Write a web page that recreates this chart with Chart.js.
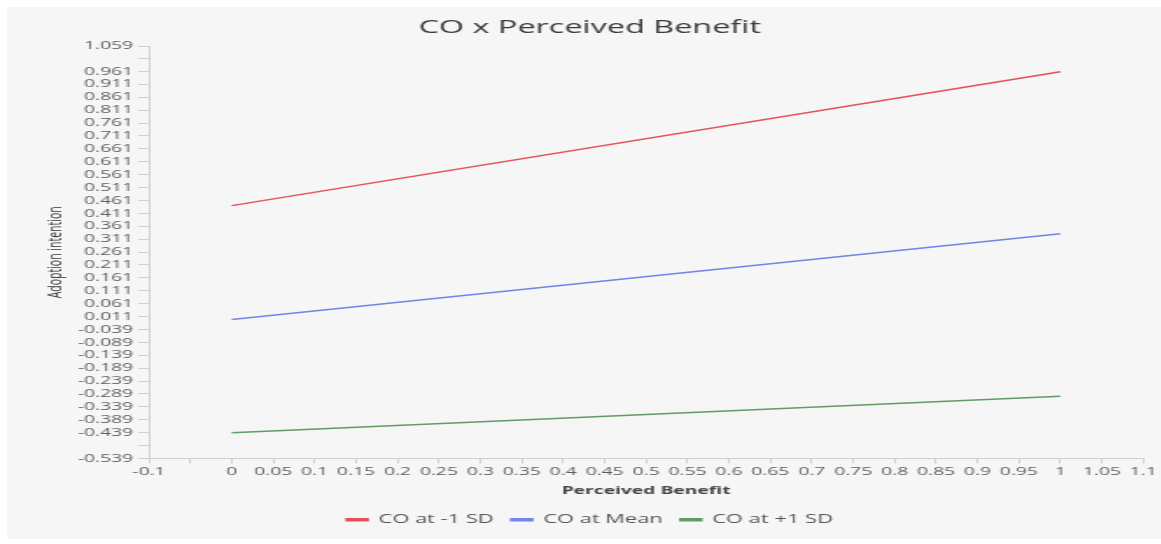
<!DOCTYPE html>
<html>
<head>
<meta charset="utf-8">
<script src="https://cdn.jsdelivr.net/npm/chart.js@4/dist/chart.umd.min.js"></script>
<style>
    html, body { margin: 0; padding: 0; background: #fff; width: 1161px; height: 544px; overflow: hidden; }
    #panel { position: absolute; left: 7px; top: 7px; right: 0; bottom: 5px; background: #f6f6f6; }
    /* the original export is stretched sideways, so draw narrow and scale it */
    #wrap { position: absolute; left: 0; top: 0; width: 663px; height: 544px; transform: scaleX(1.75); transform-origin: 0 0; }
</style>
</head>
<body>
<div id="panel"></div>
<div id="wrap"><canvas id="plot"></canvas></div>
<script>
const xValues = [0, 1];
const lowSD = [0.441, 0.960];
const meanSD = [0.000, 0.332];
const highSD = [-0.439, -0.298];
const seriesNames = ["CO at -1 SD", "CO at Mean", "CO at +1 SD"];

const xTicks = [-0.1, -0.05, 0, 0.05, 0.1, 0.15, 0.2, 0.25, 0.3, 0.35, 0.4, 0.45, 0.5,
    0.55, 0.6, 0.65, 0.7, 0.75, 0.8, 0.85, 0.9, 0.95, 1, 1.05, 1.1];
const xTickLabels = ["-0.1", "", "0", "0.05", "0.1", "0.15", "0.2", "0.25", "0.3", "0.35", "0.4", "0.45", "0.5",
    "0.55", "0.6", "0.65", "0.7", "0.75", "0.8", "0.85", "0.9", "0.95", "1", "1.05", "1.1"];

const yTicks = [-0.539, -0.489, -0.439, -0.389, -0.339, -0.289, -0.239, -0.189, -0.139, -0.089, -0.039,
    0.011, 0.061, 0.111, 0.161, 0.211, 0.261, 0.311, 0.361, 0.411, 0.461, 0.511, 0.561, 0.611, 0.661,
    0.711, 0.761, 0.811, 0.861, 0.911, 0.961, 1.011, 1.059];
const yTickLabels = ["-0.539", "", "-0.439", "-0.389", "-0.339", "-0.289", "-0.239", "-0.189", "-0.139", "-0.089", "-0.039",
    "0.011", "0.061", "0.111", "0.161", "0.211", "0.261", "0.311", "0.361", "0.411", "0.461", "0.511", "0.561", "0.611", "0.661",
    "0.711", "0.761", "0.811", "0.861", "0.911", "0.961", "", "1.059"];

const colors = ["#e4505a", "#7384e6", "#629a68"];

function toPoints(ys) {
    return xValues.map((x, i) => ({ x: x, y: ys[i] }));
}

const axisGrey = "#cfcfcf";
const font = "'Open Sans', 'DejaVu Sans', sans-serif";

const ctx = document.getElementById("plot").getContext("2d");
new Chart(ctx, {
    type: "line",
    data: {
        datasets: [lowSD, meanSD, highSD].map((ys, i) => ({
            label: seriesNames[i],
            data: toPoints(ys),
            borderColor: colors[i],
            backgroundColor: colors[i],
            borderWidth: 1.5,
            pointRadius: 0,
            tension: 0
        }))
    },
    options: {
        responsive: true,
        maintainAspectRatio: false,
        animation: false,
        layout: { padding: { top: 8, left: 20, right: 9, bottom: 8 } },
        plugins: {
            tooltip: { enabled: false },
            title: {
                display: true,
                text: "CO x Perceived Benefit",
                color: "#3a3a3a",
                font: { family: font, size: 18.5, weight: "normal", lineHeight: 1.1 },
                padding: { top: 9.8, bottom: 8 }
            },
            legend: {
                position: "bottom",
                labels: {
                    color: "#555",
                    font: { family: font, size: 12.5 },
                    boxWidth: 12,
                    boxHeight: 2,
                    padding: 10
                }
            }
        },
        scales: {
            x: {
                type: "linear",
                min: -0.1,
                max: 1.1,
                afterBuildTicks: (scale) => { scale.ticks = xTicks.map(v => ({ value: v })); },
                afterFit: (scale) => { scale.height = 45; },
                border: { display: true, color: axisGrey },
                grid: { drawOnChartArea: false, color: axisGrey, tickLength: 5 },
                ticks: {
                    autoSkip: false,
                    maxRotation: 0,
                    padding: 2,
                    color: "#5e5e5e",
                    font: { family: font, size: 11 },
                    callback: (value, index) => xTickLabels[index]
                },
                title: {
                    display: true,
                    text: "Perceived Benefit",
                    color: "#444",
                    font: { family: font, size: 11, weight: "bold" },
                    padding: { top: 0, bottom: 6.5 }
                }
            },
            y: {
                min: -0.539,
                max: 1.059,
                afterBuildTicks: (scale) => { scale.ticks = yTicks.map(v => ({ value: v })); },
                afterFit: (scale) => { scale.width = 65.1; },
                border: { display: true, color: axisGrey },
                grid: { drawOnChartArea: false, color: axisGrey, tickLength: 6 },
                ticks: {
                    autoSkip: false,
                    padding: 3,
                    color: "#5e5e5e",
                    font: { family: font, size: 11 },
                    callback: (value, index) => yTickLabels[index]
                },
                title: {
                    display: true,
                    text: "Adoption intention",
                    color: "#333",
                    font: { family: font, size: 10.5 },
                    padding: { top: 5.7, bottom: 0 }
                }
            }
        }
    }
});
</script>
</body>
</html>
